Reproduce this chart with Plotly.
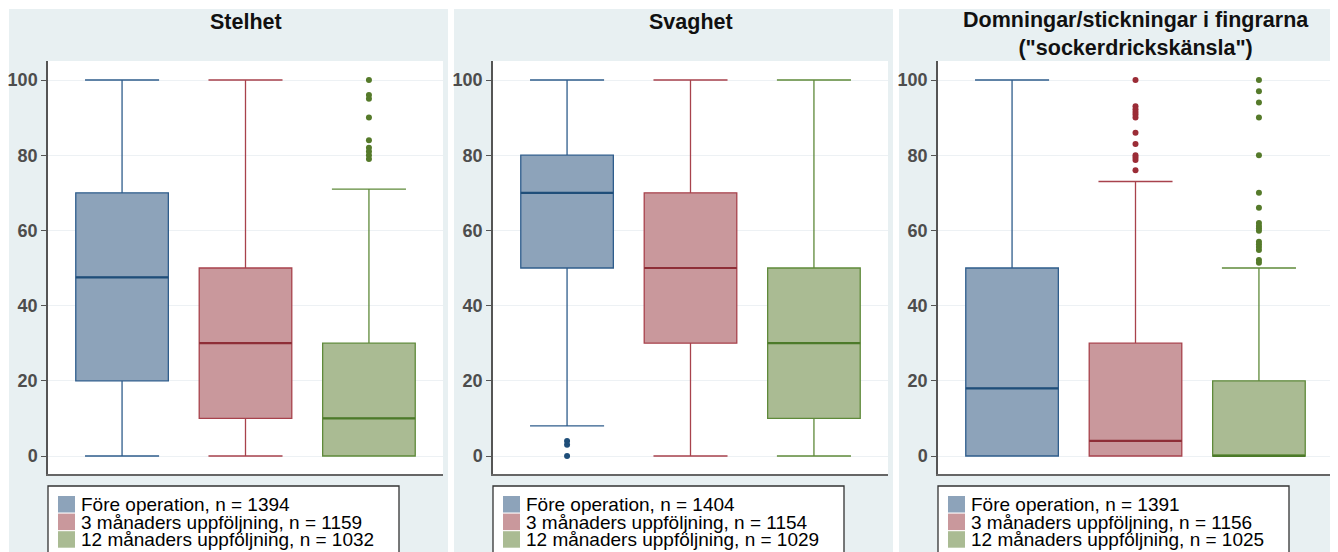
import plotly.graph_objects as go

# ---------------- data ----------------
panel_titles = ["Stelhet", "Svaghet", 'Domningar/stickningar i fingrarna<br>("sockerdrickskänsla")']
groups = ["Före operation", "3 månaders uppföljning", "12 månaders uppföljning"]

n_stelhet = [1394, 1159, 1032]
n_svaghet = [1404, 1154, 1029]
n_domningar = [1391, 1156, 1025]

lower_stelhet = [0, 0, 0]
q1_stelhet = [20, 10, 0]
median_stelhet = [47.5, 30, 10]
q3_stelhet = [70, 50, 30]
upper_stelhet = [100, 100, 71]
outliers_stelhet = [[], [], [100, 96, 95, 90, 84, 82, 81, 80, 79]]

lower_svaghet = [8, 0, 0]
q1_svaghet = [50, 30, 10]
median_svaghet = [70, 50, 30]
q3_svaghet = [80, 70, 50]
upper_svaghet = [100, 100, 100]
outliers_svaghet = [[4, 3, 0], [], []]

lower_domningar = [0, 0, 0]
q1_domningar = [0, 0, 0]
median_domningar = [18, 4, 0]
q3_domningar = [50, 30, 20]
upper_domningar = [100, 73, 50]
outliers_domningar = [
    [],
    [100, 93, 92.2, 91.5, 90.8, 90, 86, 83, 80, 79.4, 78.7, 76],
    [100, 97, 94, 90, 80, 70, 66, 62, 61.2, 60.6, 59.9, 57, 56.3, 55.6, 54.8, 52.1, 51.4],
]

y_ticks = [0, 20, 40, 60, 80, 100]

# ---------------- style ----------------
OFF = 8  # page body margin
W, H = 1330, 544
FONT = "Liberation Sans, Arial, sans-serif"
fill_colors = ["#8DA3BA", "#C9989C", "#AABB93"]
line_colors = ["#2F5D8C", "#A8424C", "#5F8A3A"]
median_colors = ["#1F4E79", "#8E2E37", "#4C7A2A"]
point_colors = ["#1F4E79", "#9B2C36", "#557A2A"]
panel_bg = "#E8F0F2"

panels = [
    (n_stelhet, lower_stelhet, q1_stelhet, median_stelhet, q3_stelhet, upper_stelhet, outliers_stelhet),
    (n_svaghet, lower_svaghet, q1_svaghet, median_svaghet, q3_svaghet, upper_svaghet, outliers_svaghet),
    (n_domningar, lower_domningar, q1_domningar, median_domningar, q3_domningar, upper_domningar, outliers_domningar),
]

def px(x):
    return (x - OFF) / W

def py(y):
    return 1 - (y - OFF) / H

STEP = 445
PLOT_L, PLOT_R, PLOT_T, PLOT_B = 48, 443, 61, 474
PPU = 3.76  # pixels per unit
y_range = [-(PLOT_B - 456) / PPU, 100 + (80 - PLOT_T) / PPU]

fig = go.Figure()
shapes = []
annotations = []

for i, (ns, lo, q1, med, q3, up, outs) in enumerate(panels):
    off = i * STEP
    xa = "x" if i == 0 else f"x{i+1}"
    ya = "y" if i == 0 else f"y{i+1}"
    xaxis_key = "xaxis" if i == 0 else f"xaxis{i+1}"
    yaxis_key = "yaxis" if i == 0 else f"yaxis{i+1}"

    # panel background and white plotting area
    shapes.append(dict(type="rect", xref="paper", yref="paper", layer="below",
                       x0=px(9 + off), x1=px(min(448 + off, W + OFF + 5)), y0=-0.2, y1=py(9),
                       fillcolor=panel_bg, line=dict(width=0)))
    shapes.append(dict(type="rect", xref="paper", yref="paper", layer="below",
                       x0=px(PLOT_L + off), x1=px(PLOT_R + off), y0=py(PLOT_B), y1=py(PLOT_T),
                       fillcolor="white", line=dict(width=0)))

    for g in range(3):
        fig.add_trace(go.Box(
            x=[groups[g]], q1=[q1[g]], median=[med[g]], q3=[q3[g]],
            lowerfence=[lo[g]], upperfence=[up[g]],
            width=0.75, whiskerwidth=0.8,
            fillcolor=fill_colors[g], line=dict(color=line_colors[g], width=1.3),
            boxpoints=False, showlegend=False, xaxis=xa, yaxis=ya, hoverinfo="skip"))
        # emphasised median line
        fig.add_trace(go.Box(
            x=[groups[g]], q1=[med[g]], median=[med[g]], q3=[med[g]],
            lowerfence=[med[g]], upperfence=[med[g]],
            width=0.75, whiskerwidth=0,
            fillcolor="rgba(0,0,0,0)", line=dict(color=median_colors[g], width=2.2),
            boxpoints=False, showlegend=False, xaxis=xa, yaxis=ya, hoverinfo="skip"))
        if outs[g]:
            fig.add_trace(go.Scatter(
                x=[groups[g]] * len(outs[g]), y=outs[g], mode="markers",
                marker=dict(size=6, color=point_colors[g]),
                showlegend=False, xaxis=xa, yaxis=ya, hoverinfo="skip"))

    fig.update_layout({
        xaxis_key: dict(domain=[px(PLOT_L + off), px(PLOT_R + off)], anchor=ya,
                        type="category", categoryorder="array", categoryarray=groups,
                        range=[-0.6, 2.6], showticklabels=False, ticks="",
                        showgrid=False, zeroline=False, showline=True,
                        linecolor="#666666", linewidth=1.5, fixedrange=True),
        yaxis_key: dict(domain=[py(PLOT_B), py(PLOT_T)], anchor=xa,
                        range=y_range, tickvals=y_ticks, ticks="outside", ticklen=5,
                        tickcolor="#555555", tickwidth=1,
                        tickfont=dict(family=FONT, size=18, color="#4D4D4D", weight="bold"),
                        showgrid=True, gridcolor="#EDF1F4", gridwidth=1, zeroline=False,
                        showline=True, linecolor="#555555", linewidth=1.5, fixedrange=True),
    })

    # panel title
    title_y = 22 if "<br>" not in panel_titles[i] else 34.5
    annotations.append(dict(xref="paper", yref="paper", x=px((PLOT_L + PLOT_R) / 2 + off), y=py(title_y),
                            xanchor="center", yanchor="middle", showarrow=False,
                            text=f"<b>{panel_titles[i]}</b>",
                            font=dict(family=FONT, size=21.5, color="#111111")))

    # legend box
    shapes.append(dict(type="rect", xref="paper", yref="paper", layer="above",
                       x0=px(48 + off), x1=px(399 + off), y0=-0.2, y1=py(486),
                       fillcolor="white", line=dict(color="#333333", width=1.3)))
    for g in range(3):
        top = 496 + g * 17.6
        shapes.append(dict(type="rect", xref="paper", yref="paper", layer="above",
                           x0=px(58 + off), x1=px(75 + off), y0=py(top + 16.5), y1=py(top),
                           fillcolor=fill_colors[g], line=dict(width=0)))
        annotations.append(dict(xref="paper", yref="paper", x=px(79 + off), y=py(top + 8.5),
                                xanchor="left", yanchor="middle", showarrow=False,
                                text=f"{groups[g]}, n = {ns[g]}",
                                font=dict(family=FONT, size=19, color="#000000")))

fig.update_layout(
    width=W, height=H, margin=dict(l=0, r=0, t=0, b=0),
    paper_bgcolor="white", plot_bgcolor="rgba(0,0,0,0)",
    boxmode="overlay", shapes=shapes, annotations=annotations,
    font=dict(family=FONT),
)

fig.write_html("out.html")
